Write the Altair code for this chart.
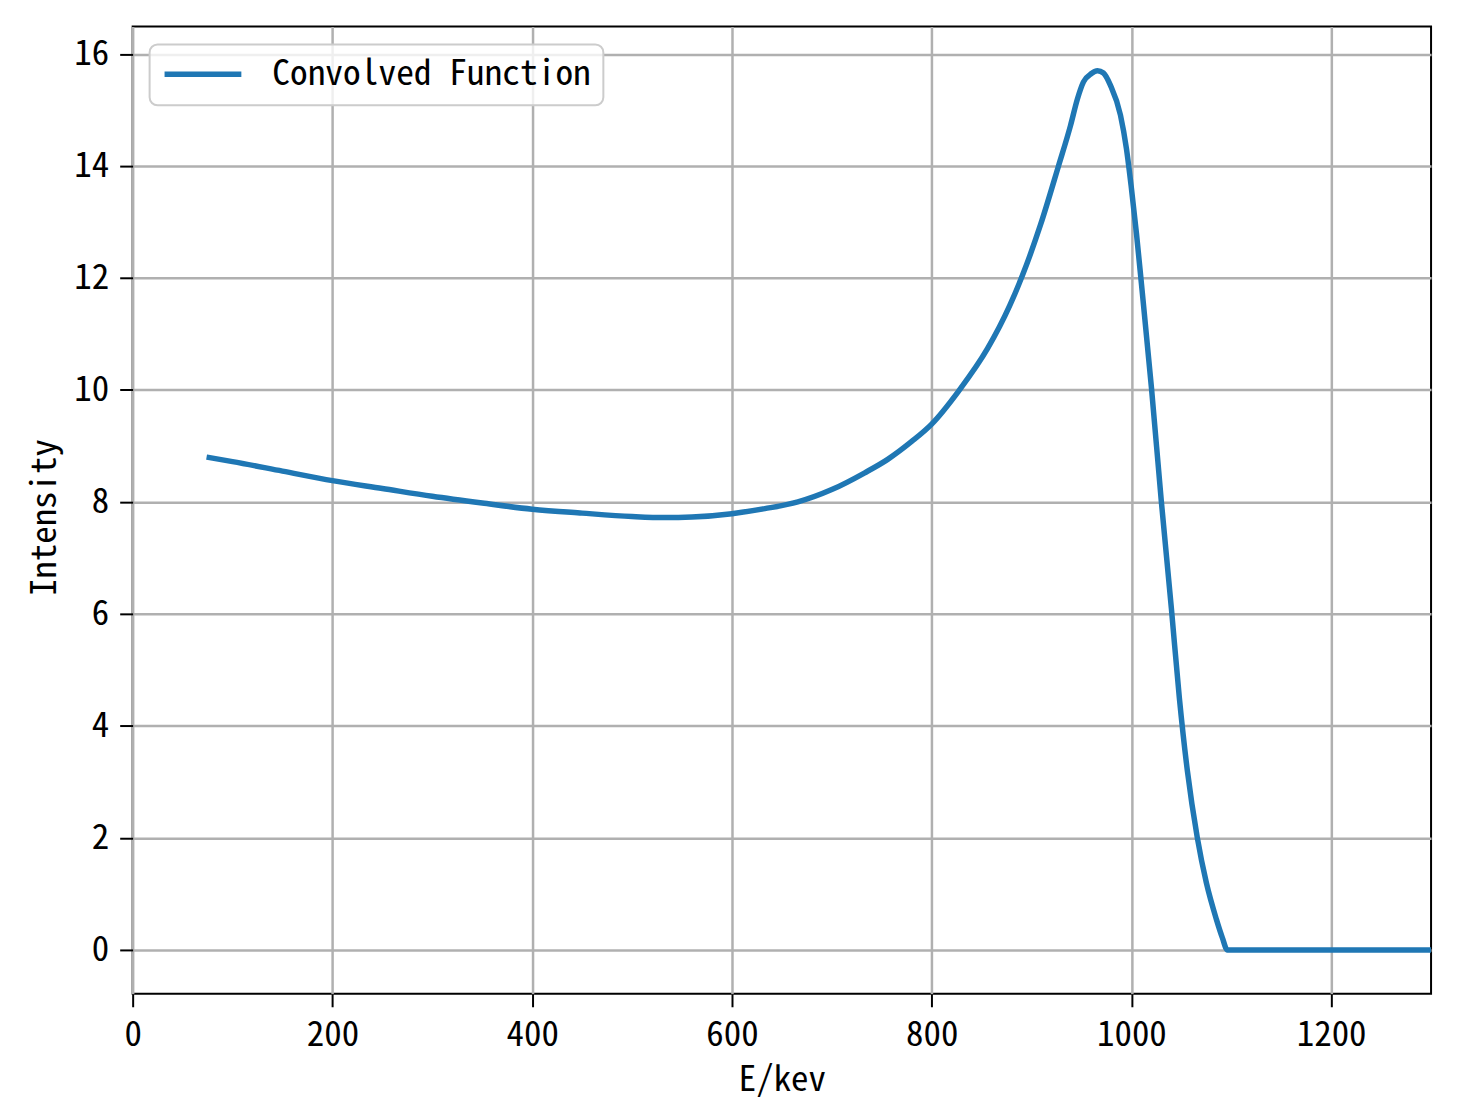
import altair as alt
import pandas as pd

# Energy (keV) and intensity
energy = [74, 100, 150, 200, 250, 300, 350, 400, 450, 500, 533, 560, 600, 633,
          666, 700, 733, 756, 780, 800, 827, 856, 878, 891, 909, 927, 939, 946,
          952, 960, 966, 972, 979, 989, 995, 1000, 1005, 1010, 1020, 1030, 1040,
          1048, 1056, 1066, 1075, 1085, 1091, 1096, 1300]
intensity = [8.80, 8.72, 8.55, 8.38, 8.24, 8.10, 7.98, 7.87, 7.80, 7.74, 7.72,
             7.73, 7.79, 7.88, 8.00, 8.22, 8.52, 8.76, 9.08, 9.39, 9.98, 10.74,
             11.50, 12.05, 12.95, 14.0, 14.72, 15.2, 15.5, 15.65, 15.70, 15.66,
             15.44, 14.91, 14.31, 13.6, 12.8, 11.9, 10.05, 8.0, 6.1, 4.5, 3.2,
             2.0, 1.2, 0.55, 0.22, 0.0, 0.0]
series_name = "Convolved Function"
x_ticks = [0, 200, 400, 600, 800, 1000, 1200]
y_ticks = [0, 2, 4, 6, 8, 10, 12, 14, 16]

df = pd.DataFrame({"E": energy, "I": intensity, "series": series_name})

FONT = "Noto Sans Mono CJK SC, DejaVu Sans Mono, monospace"

chart = (
    alt.Chart(df)
    .mark_line(strokeWidth=5.5, interpolate="monotone")
    .encode(
        x=alt.X(
            "E:Q",
            scale=alt.Scale(domain=[0, 1300], nice=False, zero=False),
            axis=alt.Axis(values=x_ticks, format="d", labelFlush=False,
                          title="E/kev", titleX=651, titleY=86,
                          titleBaseline="middle", titleAlign="center"),
        ),
        y=alt.Y(
            "I:Q",
            scale=alt.Scale(domain=[-0.784, 16.49], nice=False, zero=False),
            axis=alt.Axis(values=y_ticks, format="d", labelFlush=False,
                          title="Intensity", titleX=-88, titleY=492,
                          titleAngle=270, titleBaseline="middle", titleAlign="center"),
        ),
        color=alt.Color(
            "series:N",
            scale=alt.Scale(range=["#1f77b4"]),
            legend=alt.Legend(
                title=None,
                orient="none",
                legendX=17,
                legendY=18,
                symbolType="stroke",
                symbolSize=5929,
                symbolStrokeWidth=5.5,
                labelOffset=28,
                labelLimit=0,
                clipHeight=36,
            ),
        ),
    )
    .properties(
        width=1302,
        height=970,
        autosize=alt.AutoSizeParams(type="none"),
        padding={"left": 125, "top": 17, "right": 20, "bottom": 120},
    )
    .configure_view(stroke="black", strokeWidth=2)
    .configure_axis(
        domain=False,
        grid=True,
        gridColor="#b0b0b0",
        gridWidth=2.5,
        ticks=True,
        tickColor="black",
        tickWidth=2,
        tickSize=13,
        labelFont=FONT,
        labelFontSize=35,
        labelColor="black",
        labelPadding=11,
        titleFont=FONT,
        titleFontSize=35,
        titleFontWeight="normal",
        titleColor="black",
    )
    .configure_legend(
        labelFont=FONT,
        labelFontSize=35.5,
        labelColor="black",
        fillColor="rgba(255,255,255,0.8)",
        strokeColor="#cccccc",
        strokeWidth=2,
        cornerRadius=8,
        padding=12,
    )
)

chart.save("out.html", embed_options={"renderer": "svg", "actions": False})
